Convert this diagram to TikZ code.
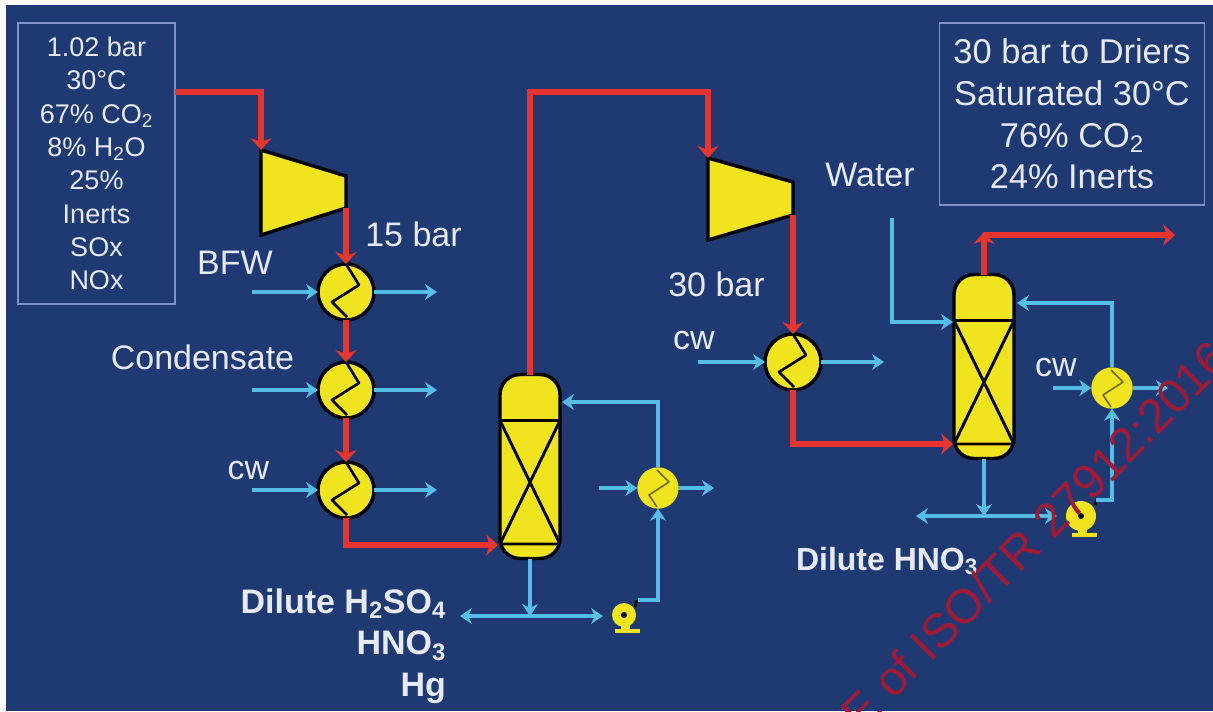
\documentclass[tikz,border=0pt]{standalone}
\usepackage{fontspec}
\setmainfont{Liberation Sans}
\usetikzlibrary{arrows.meta, calc}
\definecolor{cnavy}{HTML}{1F3A72}
\definecolor{cyellow}{HTML}{EFE41E}
\definecolor{cgas}{HTML}{E8342E}
\definecolor{cwater}{HTML}{55BEE6}
\definecolor{ctext}{HTML}{E6EAF4}
\definecolor{cframe}{HTML}{7F93C8}
\definecolor{ccoil}{HTML}{6F6A2A}
\definecolor{cmark}{HTML}{A01A38}
\tikzset{
  every node/.style={inner sep=0pt, outer sep=0pt},
  databox/.style={draw=cframe, line width=1.2pt, text=ctext, align=center},
  label/.style={text=ctext, font=\fontsize{25.5}{30}\selectfont},
  stream/.style={text=ctext, font=\bfseries\fontsize{24}{31}\selectfont, align=right},
  vessel/.style={draw=black, fill=cyellow, line width=2.6pt},
  cooler/.style={vessel, circle, minimum size=42pt},
  smallcooler/.style={fill=cyellow, circle, minimum size=31pt},
  pumpbody/.style={fill=cyellow, circle},
  column/.style={vessel, rounded corners=15pt, minimum width=45pt, minimum height=138pt},
  coil/.style={draw=black, line width=2pt, line join=round},
  gas/.style={-{Stealth[length=9pt, width=16pt]}, draw=cgas, line width=4.5pt},
  water/.style={-{Stealth[length=9pt, width=12pt]}, draw=cwater, line width=3.4pt},
  bothways/.style={water, {Stealth[length=9pt, width=12pt]}-{Stealth[length=9pt, width=12pt]}},
}

\begin{document}
\begin{tikzpicture}[x=0.75pt, y=-0.75pt]
  \useasboundingbox (0,0) rectangle (1213,711);
  \fill[white] (0,0) rectangle (1213,711);
  \fill[cnavy] (6,5) rectangle (1213,711);

  % data boxes
  \node[databox, minimum width=117.75pt, minimum height=210.75pt, font=\fontsize{20.25}{25}\selectfont] (feedbox) at (96.5,163.5)
    {1.02 bar\\30°C\\67\% CO\textsubscript{2}\\8\% H\textsubscript{2}O\\25\%\\Inerts\\SOx\\NOx};
  \node[databox, minimum width=198.75pt, minimum height=136.5pt, font=\fontsize{25.8}{31.25}\selectfont] (prodbox) at (1072,114)
    {30 bar to Driers\\Saturated 30°C\\76\% CO\textsubscript{2}\\24\% Inerts};

  % compressors
  \draw[vessel, line join=miter] (261,150) coordinate (compain) -- (346,176) -- (346,208) coordinate (compaout) -- (261,235) -- cycle;
  \draw[vessel, line join=miter] (708,158) coordinate (compbin) -- (793,182) -- (793,215) coordinate (compbout) -- (708,240) -- cycle;

  % exchangers and columns
  \node[cooler] (hxa) at (346,292) {};
  \node[cooler] (hxb) at (346,390) {};
  \node[cooler] (hxc) at (346,490) {};
  \node[cooler] (hxd) at (793,362) {};
  \node[smallcooler] (hxe) at (658,488) {};
  \node[smallcooler] (hxf) at (1112,388) {};
  \node[column] (cola) at (530,466.5) {};
  \node[column] (colb) at (984,366.5) {};
  \foreach \hx in {hxa,hxb,hxc,hxd} {
    \draw[coil, shift={(\hx.center)}] (0,-28) -- (13,-7) -- (-14,10) -- (1,25);
  }
  \foreach \hx in {hxe,hxf} {
    \draw[coil, draw=ccoil, line width=1.2pt, shift={(\hx.center)}] (-1,-18) -- (11,-6) -- (-9,7) -- (-1,19);
  }
  \foreach \col in {cola,colb} {
    \draw[line width=2.2pt, shift={(\col.center)}] (-30,-46) -- (30,-46) (-30,77.5) -- (30,77.5)
      (-30,-46) -- (30,77.5) (30,-46) -- (-30,77.5);
  }

  % pumps
  \foreach \pmp/\px/\py/\pr in {pumpa/624/615/12, pumpb/1081/516/15} {
    \fill[cyellow] (\px-3,\py+\pr-2) rectangle (\px+6,\py+\pr+3);
    \fill[cyellow] (\px-9,\py+\pr+2) rectangle (\px+16,\py+\pr+6);
    \draw[line width=2pt] (\px+\pr-1,\py-\pr+4) -- (\px+\pr+1,\py-\pr-3);
    \node[pumpbody, minimum size=\pr*1.5pt] (\pmp) at (\px,\py) {};
    \fill[black] (\pmp.center) circle (3);
  }

  % gas line
  \coordinate (feedout) at (175,92);
  \coordinate (bendb) at (708,92);
  \coordinate (colagas) at (498,545);
  \coordinate (colbgas) at (953,444);
  \coordinate (colbtop) at (984,232);
  \coordinate (colbbend) at (984,235);
  \coordinate (driers) at (1175,235);
  \draw[gas] (feedout) -| (compain);
  \draw[gas] (compaout) -- (hxa);
  \draw[gas] (hxa) -- (hxb);
  \draw[gas] (hxb) -- (hxc);
  \draw[gas] (hxc.south) |- (colagas);
  \draw[gas] (cola.north) |- (bendb) -- (compbin);
  \draw[gas] (compbout) -- (hxd);
  \draw[gas] (hxd.south) |- (colbgas);
  \draw[gas] (colb.north) -- (colbtop);
  \draw[gas, line cap=square] (colbbend) -- (driers);

  % cooling water
  \foreach \hx/\inx/\outx in {hxa/-94/91, hxb/-94/91, hxc/-94/91, hxd/-95/91, hxe/-59/56, hxf/-59/56} {
    \draw[water] ($(\hx)+(\inx,0)$) -- (\hx);
    \draw[water] (\hx) -- ($(\hx)+(\outx,0)$);
  }

  % recycle loops
  \coordinate (colaret) at (562,402);
  \coordinate (colbret) at (1017,303);
  \coordinate (pumpaout) at (638,600);
  \coordinate (pumpbout) at (1096,500);
  \coordinate (colajoin) at (530,616);
  \coordinate (colbjoin) at (984,516);
  \coordinate (acidout) at (460,616);
  \coordinate (nitricout) at (916,516);
  \coordinate (pumpain) at (603,616);
  \coordinate (pumpbin) at (1057,516);
  \coordinate (waterin) at (892,218);
  \coordinate (colbwater) at (953,322);
  \draw[water] (hxe.north) |- (colaret);
  \draw[water] (pumpaout) -| (hxe.south);
  \draw[water] (cola.south) -- (colajoin);
  \draw[bothways] (acidout) -- (pumpain);
  \draw[water] (hxf.north) |- (colbret);
  \draw[water] (pumpbout) -| (hxf.south);
  \draw[water] (colb.south) -- (colbjoin);
  \draw[bothways] (nitricout) -- (pumpbin);
  \draw[water] (waterin) |- (colbwater);

  % labels
  \node[label] (bara) at (413.5,234) {15 bar};
  \node[label] (barb) at (716.5,284) {30 bar};
  \node[label] (bfw) at (235,263) {BFW};
  \node[label] (condensate) at (202.5,357) {Condensate};
  \node[label] (water) at (870,175) {Water};
  \node[label] (cwa) at (248.5,471) {cw};
  \node[label] (cwb) at (694,341) {cw};
  \node[label] (cwc) at (1056,368) {cw};
  \node[stream, anchor=north east, font=\bfseries\fontsize{25.5}{31}\selectfont] (acids) at (446,589)
    {Dilute H\textsubscript{2}SO\textsubscript{4}\\HNO\textsubscript{3}\\Hg};
  \node[stream, anchor=base west] (nitric) at (796,570) {Dilute HNO\textsubscript{3}};

  % stamp across the page
  \node[text=cmark, rotate=45, anchor=base west, font=\fontsize{36}{36}\selectfont] (stamp) at (861,733) {E of ISO/TR 27912:2016};
\end{tikzpicture}
\end{document}
